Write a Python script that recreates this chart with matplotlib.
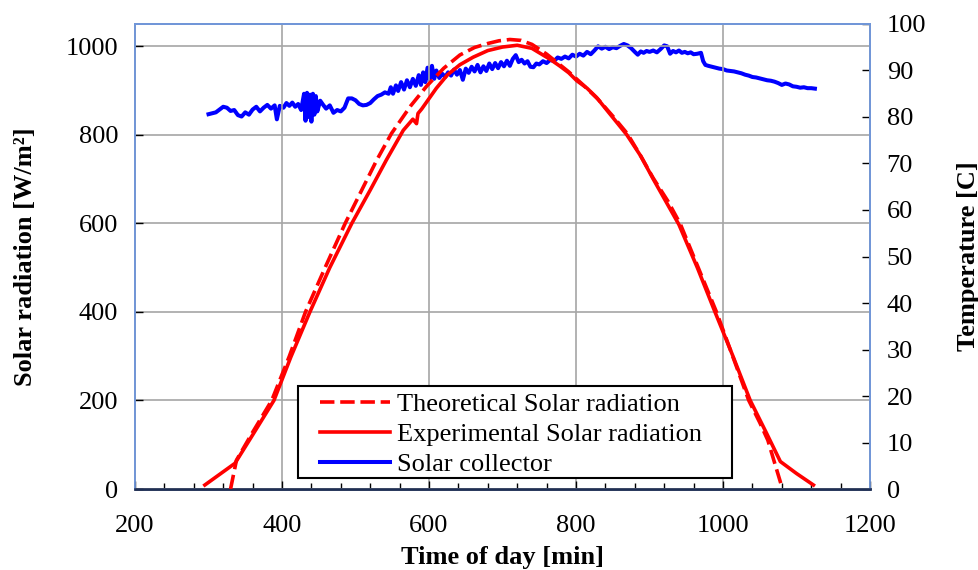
import matplotlib
matplotlib.use("Agg")
import matplotlib.pyplot as plt
from matplotlib.ticker import MultipleLocator
from matplotlib.patches import Rectangle

plt.rcParams['font.family'] = ['Liberation Serif', 'DejaVu Serif']

# Theoretical solar radiation (W/m2)
theo_t = [330, 338, 360, 386, 410, 432, 460, 486, 510, 529, 549, 575, 597, 620, 642, 662,
          680, 695, 710, 725, 740, 760, 775, 790, 810, 830, 850, 870, 888, 905, 925, 942,
          965, 991, 1012, 1035, 1050, 1061, 1070, 1080]
theo_v = [0, 65, 128, 200, 300, 400, 505, 600, 680, 743, 803, 865, 910, 950, 980, 997,
          1006, 1012, 1015, 1013, 1004, 982, 962, 942, 912, 880, 842, 802, 752, 702, 650, 598,
          505, 400, 305, 200, 150, 110, 60, 5]

# Experimental solar radiation (W/m2)
exp_t = [295, 336, 360, 389, 412, 438, 465, 495, 520, 542, 565, 578, 583, 585, 590, 610,
         625, 642, 660, 680, 700, 720, 740, 751, 765, 778, 790, 801, 815, 828, 848, 869,
         888, 905, 922, 940, 965, 989, 1013, 1037, 1058, 1078, 1100, 1123]
exp_v = [9, 58, 122, 200, 298, 400, 500, 600, 675, 743, 810, 835, 825, 848, 858, 905,
         935, 958, 975, 990, 998, 1002, 995, 984, 970, 955, 940, 922, 905, 884, 843, 800,
         752, 700, 650, 597, 500, 400, 302, 200, 130, 62, 35, 9]

# Solar collector temperature (C)
col_t = [300, 305, 310, 315, 320, 325, 330, 335, 340, 345, 350, 355, 360, 365, 370, 375,
         380, 385, 390, 393, 397, 402, 406, 410, 414, 418, 422, 426, 430, 432, 434, 436,
         438, 440, 442, 444, 446, 448, 452, 456, 460, 465, 470, 475, 480, 485, 490, 495,
         500, 505, 510, 515, 520, 525, 530, 535, 540, 545, 548, 551, 555, 558, 562, 566,
         570, 574, 578, 582, 586, 589, 592, 595, 598, 601, 604, 607, 610, 614, 618, 622,
         626, 630, 634, 638, 642, 646, 650, 654, 658, 662, 666, 670, 674, 678, 682, 686,
         690, 694, 698, 702, 706, 710, 714, 718, 722, 726, 730, 734, 738, 742, 746, 750,
         755, 760, 765, 770, 775, 780, 785, 790, 795, 800, 805, 810, 815, 820, 825, 830,
         835, 840, 845, 850, 855, 860, 865, 870, 875, 880, 884, 888, 892, 896, 900, 905,
         910, 915, 920, 924, 928, 932, 936, 940, 944, 948, 952, 956, 960, 965, 970, 973,
         976, 980, 985, 990, 995, 1000, 1005, 1010, 1015, 1020, 1025, 1030, 1035, 1040, 1045, 1050,
         1055, 1060, 1065, 1070, 1075, 1080, 1085, 1090, 1095, 1100, 1105, 1110, 1115, 1120, 1125]
col_v = [80.6, 80.8, 81.0, 81.6, 82.2, 82.0, 81.3, 81.5, 80.4, 80.1, 81.0, 80.5, 81.6, 82.2, 81.2, 82.0,
         82.6, 81.8, 82.5, 79.5, 82.4, 82.0, 83.0, 82.4, 83.1, 82.2, 82.8, 81.5, 85.0, 79.2, 85.2, 80.0,
         84.8, 79.0, 85.0, 80.5, 84.5, 81.2, 83.5, 82.6, 81.8, 82.5, 80.9, 81.5, 81.2, 82.0, 84.0, 84.0,
         83.6, 82.8, 82.5, 82.6, 83.0, 83.8, 84.5, 84.8, 85.3, 85.0, 86.4, 85.0, 86.8, 85.6, 87.5, 85.9,
         87.9, 86.4, 88.2, 86.7, 89.0, 86.9, 89.6, 87.5, 90.6, 88.0, 91.0, 88.2, 90.0, 88.4, 89.3, 88.6,
         89.6, 88.9, 90.2, 89.1, 90.1, 88.0, 90.4, 89.5, 90.8, 89.8, 91.2, 89.6, 90.9, 89.9, 91.5, 90.3,
         91.6, 90.5, 91.8, 90.9, 92.1, 91.0, 92.5, 93.3, 91.8, 92.3, 91.5, 92.0, 90.8, 90.7, 91.5, 91.3,
         92.0, 91.6, 92.3, 92.0, 92.8, 92.5, 93.0, 92.6, 93.4, 93.0, 93.6, 93.2, 94.0, 93.5, 94.3, 95.2,
         94.7, 95.1, 94.6, 95.0, 94.8, 95.3, 95.7, 95.4, 94.8, 94.0, 93.4, 94.1, 93.8, 94.2, 94.0, 94.3,
         93.9, 94.6, 95.4, 95.2, 93.6, 94.2, 93.9, 94.3, 93.8, 94.0, 93.7, 93.9, 93.5, 93.6, 93.8, 92.0,
         91.2, 91.0, 90.8, 90.6, 90.4, 90.3, 90.0, 89.9, 89.8, 89.6, 89.4, 89.1, 88.9, 88.6, 88.5, 88.3,
         88.1, 87.9, 87.8, 87.6, 87.3, 86.9, 87.2, 87.0, 86.6, 86.5, 86.3, 86.4, 86.2, 86.2, 86.1]

FS = 19

fig = plt.figure(figsize=(9.79, 5.70), dpi=100)
ax = fig.add_axes([0.1379, 0.1421, 0.7508, 0.8158])
ax2 = ax.twinx()

l1, = ax.plot(theo_t, theo_v, color='#ff0000', lw=2.6, ls=(0, (4.0, 1.6)),
              label='Theoretical Solar radiation', zorder=3)
l2, = ax.plot(exp_t, exp_v, color='#ff0000', lw=2.6, label='Experimental Solar radiation', zorder=3)
l3, = ax2.plot(col_t, col_v, color='#0000ff', lw=2.9, label='Solar collector', zorder=3)

ax.set_xlim(200, 1200)
ax.set_ylim(0, 1050)
ax2.set_ylim(0, 100)

ax.xaxis.set_major_locator(MultipleLocator(200))
ax.xaxis.set_minor_locator(MultipleLocator(40))
ax.yaxis.set_major_locator(MultipleLocator(200))
ax2.yaxis.set_major_locator(MultipleLocator(10))

ax.grid(True, which='major', color='#a6a6a6', lw=1.2)
ax.set_axisbelow(True)

ax.tick_params(axis='x', which='major', direction='in', length=6, width=1, labelsize=FS, pad=19, top=False)
ax.tick_params(axis='x', which='minor', direction='in', length=4, width=1, top=False)
ax.tick_params(axis='y', direction='in', length=6, width=1, labelsize=FS, pad=12)
ax2.tick_params(axis='y', direction='in', length=6, width=1, labelsize=FS, pad=12)

for a in (ax, ax2):
    for sp in ['left', 'top', 'right']:
        a.spines[sp].set_color('#7096d8')
        a.spines[sp].set_linewidth(1.3)
    a.spines['bottom'].set_color('#1f2f55')
    a.spines['bottom'].set_linewidth(1.8)

ax.set_xlabel('Time of day [min]', fontsize=FS, fontweight='bold', labelpad=6)
ax.set_ylabel('Solar radiation [W/m²]', fontsize=FS, fontweight='bold', labelpad=21)
ax2.set_ylabel('Temperature [C]', fontsize=FS, fontweight='bold', labelpad=22)

# legend frame box
frame = Rectangle((0.2218, 0.0237), 0.5904, 0.1978, transform=ax.transAxes,
                  facecolor='white', edgecolor='black', lw=1.5, zorder=9)
ax.add_patch(frame)

leg = ax.legend(handles=[l1, l2, l3], loc='lower left', bbox_to_anchor=(0.2517, 0.028),
                fontsize=FS, frameon=False, borderpad=0, labelspacing=0.24,
                handlelength=2.65, handletextpad=0.27, borderaxespad=0)
leg.set_zorder(10)
ax.set_zorder(ax2.get_zorder() + 1)
ax.patch.set_visible(False)

fig.savefig('out.png', dpi=100)
